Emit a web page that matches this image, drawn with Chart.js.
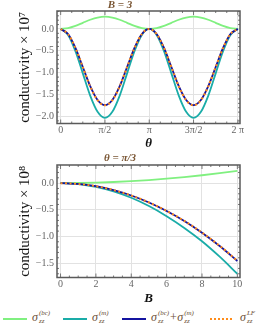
<!DOCTYPE html>
<html>
<head>
<meta charset="utf-8">
<script src="https://cdn.jsdelivr.net/npm/chart.js@4"></script>
<style>
  body { margin: 0; background: #fff; width: 262px; height: 332px; overflow: hidden; position: relative; }
  .box { position: absolute; left: 0; width: 262px; }
  #top { top: 0; height: 150px; }
  #bot { top: 150px; height: 155px; }
  #legend { position: absolute; top: 305px; left: 0; width: 262px; height: 27px; font-family: "Liberation Serif", serif; color: #6a4e34; }
  .swatch { position: absolute; width: 24px; height: 0; border-top: 2px solid; }
  .lab { position: absolute; font-size: 12px; font-style: italic; white-space: nowrap; }
  .ss { display: inline-flex; flex-direction: column; vertical-align: middle; font-size: 7px; line-height: 8px; margin-left: 1px; position: relative; top: -1px; }
  .ss i { font-style: italic; }
</style>
</head>
<body>
<div class="box" id="top"><canvas id="c1"></canvas></div>
<div class="box" id="bot"><canvas id="c2"></canvas></div>
<div id="legend">
  <div class="swatch" style="left:3px;top:13px;border-color:#80f080"></div>
  <div class="lab" style="left:32px;top:5px">σ<span class="ss"><span>(bc)</span><i>zz</i></span></div>
  <div class="swatch" style="left:63px;top:13px;border-color:#1aaca8"></div>
  <div class="lab" style="left:92px;top:5px">σ<span class="ss"><span>(m)</span><i>zz</i></span></div>
  <div class="swatch" style="left:122px;top:13px;border-color:#1414a0"></div>
  <div class="lab" style="left:151px;top:5px">σ<span class="ss"><span>(bc)</span><i>zz</i></span>+σ<span class="ss"><span>(m)</span><i>zz</i></span></div>
  <div class="swatch" style="left:210px;top:13px;width:22px;border-top:2px dotted #ff8c1a"></div>
  <div class="lab" style="left:240px;top:5px">σ<span class="ss"><span>LF</span><i>zz</i></span></div>
</div>
<script>
// ---- top panel: B = 3, sweep over theta ----
const thetaVals = [0, 0.2618, 0.5236, 0.7854, 1.0472, 1.3090, 1.5708, 1.8326, 2.0944, 2.3562, 2.6180, 2.8798, 3.1416,
  3.4034, 3.6652, 3.9270, 4.1888, 4.4506, 4.7124, 4.9742, 5.2360, 5.4978, 5.7596, 6.0214, 6.2832];
const bcTheta  = [0, 0.019, 0.070, 0.140, 0.210, 0.261, 0.280, 0.261, 0.210, 0.140, 0.070, 0.019, 0,
  0.019, 0.070, 0.140, 0.210, 0.261, 0.280, 0.261, 0.210, 0.140, 0.070, 0.019, 0];
const mTheta   = [0, -0.136, -0.508, -1.015, -1.523, -1.894, -2.030, -1.894, -1.523, -1.015, -0.508, -0.136, 0,
  -0.136, -0.508, -1.015, -1.523, -1.894, -2.030, -1.894, -1.523, -1.015, -0.508, -0.136, 0];
const sumTheta = [0, -0.117, -0.435, -0.870, -1.305, -1.623, -1.740, -1.623, -1.305, -0.870, -0.435, -0.117, 0,
  -0.117, -0.435, -0.870, -1.305, -1.623, -1.740, -1.623, -1.305, -0.870, -0.435, -0.117, 0];
const lfTheta  = [0, -0.117, -0.436, -0.872, -1.309, -1.628, -1.745, -1.628, -1.309, -0.872, -0.436, -0.117, 0,
  -0.117, -0.436, -0.872, -1.309, -1.628, -1.745, -1.628, -1.309, -0.872, -0.436, -0.117, 0];
const thetaTicks = [0, Math.PI / 2, Math.PI, 3 * Math.PI / 2, 2 * Math.PI];
const thetaTickLabels = ['0', 'π/2', 'π', '3π/2', '2 π'];
const topYTicks = [0, -0.5, -1.0, -1.5, -2.0];

// ---- bottom panel: theta = pi/3, sweep over B ----
const bVals  = [0, 1, 2, 3, 4, 5, 6, 7, 8, 9, 10];
const bcB    = [0, 0.002, 0.009, 0.021, 0.037, 0.058, 0.083, 0.113, 0.148, 0.187, 0.230];
const mB     = [0, -0.017, -0.070, -0.155, -0.275, -0.430, -0.620, -0.840, -1.090, -1.380, -1.700];
const sumB   = [0, -0.015, -0.058, -0.131, -0.232, -0.363, -0.522, -0.710, -0.930, -1.180, -1.460];
const lfB    = [0, -0.015, -0.058, -0.130, -0.232, -0.362, -0.520, -0.708, -0.927, -1.175, -1.455];
const bTicks = [0, 2, 4, 6, 8, 10];
const botYTicks = [0, -0.5, -1.0, -1.5];

const serif = '"Liberation Serif", serif';
const tickColor = '#666';
const frameColor = '#5a5a5a';

function pts(xs, ys) { return xs.map((x, i) => ({ x: x, y: ys[i] })); }
function fmt(v) { return v.toFixed(1).replace('-', '−'); }

// chart.js paints lower "order" on top, so the dotted LF curve gets order 1
function series(xs, g, t, s, lf) {
  const base = { pointRadius: 0, fill: false, cubicInterpolationMode: 'monotone', borderWidth: 1.8 };
  return [
    Object.assign({}, base, { data: pts(xs, g), borderColor: '#80f080', order: 4 }),
    Object.assign({}, base, { data: pts(xs, t), borderColor: '#1aaca8', order: 3 }),
    Object.assign({}, base, { data: pts(xs, s), borderColor: '#1414a0', order: 2 }),
    Object.assign({}, base, { data: pts(xs, lf), borderColor: '#ff8c1a', borderWidth: 2, borderDash: [2, 2.5], order: 1 })
  ];
}

// frame + small minor ticks
const framePlugin = {
  id: 'frame',
  afterDatasetsDraw(chart, args, opts) {
    const { ctx, chartArea: a, scales } = chart;
    ctx.save();
    ctx.strokeStyle = '#777';
    ctx.lineWidth = 1;
    ctx.beginPath();
    opts.xMinor.forEach(v => {
      const px = scales.x.getPixelForValue(v);
      ctx.moveTo(px, a.bottom); ctx.lineTo(px, a.bottom - 2);
      ctx.moveTo(px, a.top); ctx.lineTo(px, a.top + 2);
    });
    opts.xMajor.forEach(v => {
      const px = scales.x.getPixelForValue(v);
      ctx.moveTo(px, a.bottom); ctx.lineTo(px, a.bottom - 4);
      ctx.moveTo(px, a.top); ctx.lineTo(px, a.top + 4);
    });
    opts.yMinor.forEach(v => {
      const py = scales.y.getPixelForValue(v);
      if (py < a.top || py > a.bottom) return;
      ctx.moveTo(a.left, py); ctx.lineTo(a.left + 2, py);
      ctx.moveTo(a.right, py); ctx.lineTo(a.right - 2, py);
    });
    ctx.stroke();
    ctx.strokeStyle = frameColor;
    ctx.lineWidth = 1.5;
    ctx.strokeRect(a.left, a.top, a.right - a.left, a.bottom - a.top);
    ctx.restore();
  }
};

function makeChart(id, cfg) {
  return new Chart(document.getElementById(id), {
    type: 'line',
    data: { datasets: cfg.datasets },
    plugins: [framePlugin],
    options: {
      responsive: true,
      maintainAspectRatio: false,
      animation: false,
      layout: { padding: { left: 0, right: 22, top: 0, bottom: 0 } },
      plugins: {
        legend: { display: false },
        tooltip: { enabled: false },
        title: {
          display: true, text: cfg.title, color: '#7a5634',
          font: { family: serif, size: 11, style: 'italic', lineHeight: 1 },
          padding: cfg.titlePad
        },
        frame: { xMinor: cfg.xMinor, xMajor: cfg.xMajor, yMinor: cfg.yMinor }
      },
      scales: {
        x: {
          type: 'linear', min: cfg.xMin, max: cfg.xMax,
          afterBuildTicks: s => { s.ticks = cfg.xMajor.map(v => ({ value: v })); },
          afterFit: s => { s.height = cfg.xAxisH; },
          ticks: {
            color: tickColor, font: { family: serif, size: 10 }, padding: 1, maxRotation: 0,
            callback: cfg.xLabel
          },
          grid: { color: '#e2e2e2', drawTicks: false },
          border: { display: false },
          title: {
            display: true, text: cfg.xTitle, color: '#111',
            font: { family: serif, size: 13, style: 'italic', weight: 'bold', lineHeight: 1 },
            padding: { top: 2, bottom: cfg.xTitleBottom }
          }
        },
        y: {
          min: cfg.yMin, max: cfg.yMax,
          afterBuildTicks: s => { s.ticks = cfg.yMajor.map(v => ({ value: v })); },
          afterFit: s => { s.width = 57; },
          ticks: { color: tickColor, font: { family: serif, size: 10 }, padding: 3, callback: v => fmt(v) },
          grid: { color: '#e2e2e2', drawTicks: false },
          border: { display: false },
          title: {
            display: true, text: cfg.yTitle, color: '#111',
            font: { family: serif, size: 15, lineHeight: 1 },
            padding: { top: 18, bottom: 0 }
          }
        }
      }
    }
  });
}

const thetaMinor = [];
for (let k = 0; k <= 16; k++) if (k % 4) thetaMinor.push(k * Math.PI / 8);
const yMinorTop = [];
for (let k = 1; k <= 22; k++) if (k % 5) yMinorTop.push(-k * 0.1);
yMinorTop.push(0.1, 0.2, 0.3, 0.4);
const bMinor = [];
for (let k = 0; k <= 20; k++) if (k % 4) bMinor.push(k * 0.5);
const yMinorBot = [];
for (let k = 1; k <= 17; k++) if (k % 5) yMinorBot.push(-k * 0.1);
yMinorBot.push(0.1, 0.2, 0.3);

makeChart('c1', {
  datasets: series(thetaVals, bcTheta, mTheta, sumTheta, lfTheta),
  title: 'B = 3', titlePad: { top: 0, bottom: 0 },
  xMin: -0.13, xMax: 6.36, yMin: -2.16, yMax: 0.41,
  xMajor: thetaTicks, xMinor: thetaMinor, yMajor: topYTicks, yMinor: yMinorTop,
  xLabel: (v, i) => thetaTickLabels[i],
  xAxisH: 26.5, xTitle: 'θ', xTitleBottom: 0,
  yTitle: 'conductivity × 10⁷'
});

makeChart('c2', {
  datasets: series(bVals, bcB, mB, sumB, lfB),
  title: 'θ = π/3', titlePad: { top: 3, bottom: 1 },
  xMin: -0.2, xMax: 10.15, yMin: -1.77, yMax: 0.34,
  xMajor: bTicks, xMinor: bMinor, yMajor: botYTicks, yMinor: yMinorBot,
  xLabel: (v, i) => String(bTicks[i]),
  xAxisH: 27.5, xTitle: 'B', xTitleBottom: 0,
  yTitle: 'conductivity × 10⁸'
});
</script>
</body>
</html>
